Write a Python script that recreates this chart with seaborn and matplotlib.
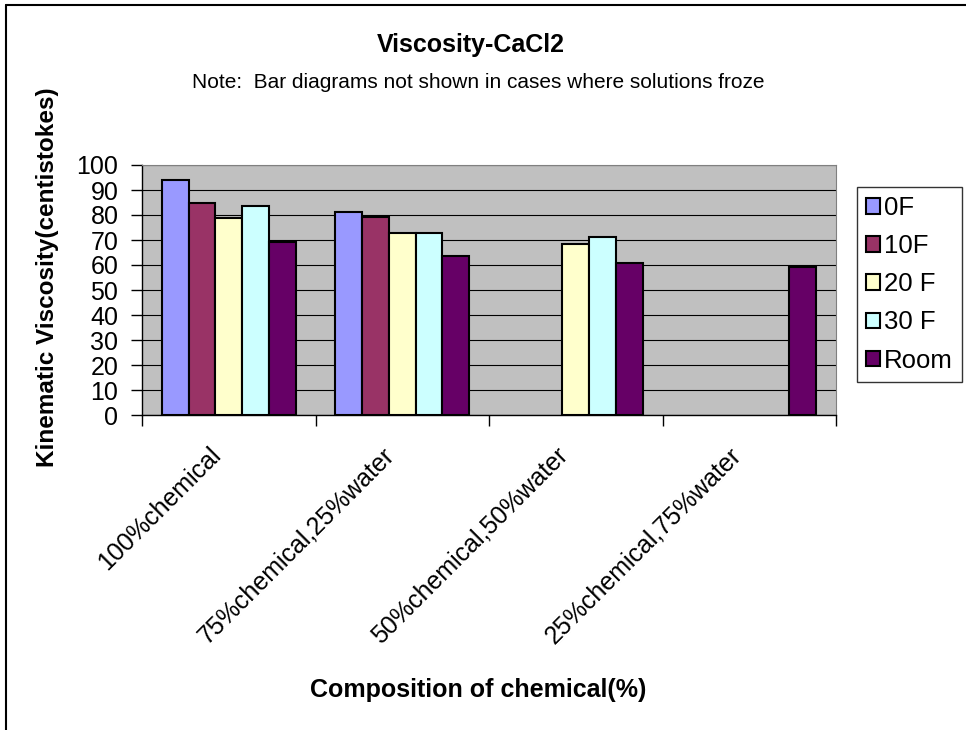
import pandas as pd
import numpy as np
import seaborn as sns
import matplotlib.pyplot as plt
from matplotlib.lines import Line2D
from matplotlib.transforms import ScaledTranslation

categories = ['100%chemical', '75%chemical,25%water', '50%chemical,50%water', '25%chemical,75%water']
series = ['0F', '10F', '20 F', '30 F', 'Room']
vals_0f = [94.0, 81.2, np.nan, np.nan]
vals_10f = [85.0, 79.3, np.nan, np.nan]
vals_20f = [79.0, 72.7, 68.4, np.nan]
vals_30f = [83.6, 72.7, 71.3, np.nan]
vals_room = [69.2, 63.6, 60.7, 59.3]
colors = ['#9999FF', '#993366', '#FFFFCC', '#CCFFFF', '#660066']

df = pd.DataFrame({
    'Composition': categories * 5,
    'Series': [s for s in series for _ in categories],
    'Viscosity': vals_0f + vals_10f + vals_20f + vals_30f + vals_room,
})

sns.set_style('white')
plt.rcParams['font.family'] = ['Liberation Sans', 'DejaVu Sans']
plt.rcParams['text.color'] = 'black'
plt.rcParams['xtick.color'] = 'black'
plt.rcParams['ytick.color'] = 'black'

fig = plt.figure(figsize=(9.66, 7.30), dpi=100)
ax = fig.add_axes([142 / 966, 1 - 415 / 730, 694 / 966, 250 / 730])
ax.set_facecolor('#C0C0C0')

sns.barplot(
    data=df, x='Composition', y='Viscosity', hue='Series',
    order=categories, hue_order=series, palette=colors,
    width=0.77, gap=0, edgecolor='black', linewidth=1.5,
    saturation=1, ax=ax, legend=True, zorder=3
)

ax.set_ylim(0, 100)
ax.set_xlim(-0.5, 3.5)
ax.set_yticks(range(0, 101, 10))
ax.yaxis.grid(True, color='black', linewidth=0.8)
ax.set_axisbelow(True)
ax.tick_params(axis='y', direction='out', length=8, width=1, color='black',
               labelsize=18, pad=9, left=True)
ax.set_xticks(range(4))
ax.set_xticklabels(categories, rotation=45, ha='right', rotation_mode='anchor', fontsize=18)
ax.tick_params(axis='x', length=0, pad=14)
shift = ScaledTranslation(-20 / 100, -8 / 100, fig.dpi_scale_trans)
for lbl in ax.get_xticklabels():
    lbl.set_transform(lbl.get_transform() + shift)
ax.set_xticks(np.arange(-0.5, 4, 1), minor=True)
ax.tick_params(axis='x', which='minor', direction='out', length=8, width=1, color='black', bottom=True)

for s in ['top', 'right']:
    ax.spines[s].set_color('#808080')
for s in ['left', 'bottom']:
    ax.spines[s].set_color('black')
    ax.spines[s].set_linewidth(1)

ax.set_xlabel('')
ax.set_ylabel('')
fig.text(478 / 966, 1 - 690 / 730, 'Composition of chemical(%)', fontsize=18, fontweight='bold',
         ha='center', va='center')
fig.text(48 / 966, 1 - 277 / 730, 'Kinematic Viscosity(centistokes)', fontsize=17.5, fontweight='bold',
         ha='center', va='center', rotation=90)
fig.text(471 / 966, 1 - 45 / 730, 'Viscosity-CaCl2', fontsize=18, fontweight='bold',
         ha='center', va='center')
fig.text(478 / 966, 1 - 82 / 730, 'Note:  Bar diagrams not shown in cases where solutions froze',
         fontsize=15, ha='center', va='center')

handles, labels = ax.get_legend_handles_labels()
ax.legend(handles, labels, loc='upper left', bbox_to_anchor=(857 / 966, 1 - 187 / 730),
          bbox_transform=fig.transFigure, frameon=True, fancybox=False, edgecolor='black',
          fontsize=18.5, handlelength=0.55, handleheight=0.55, handletextpad=0.15,
          labelspacing=0.55, borderpad=0.35, borderaxespad=0)
ax.get_legend().get_frame().set_linewidth(1)

fig.add_artist(Line2D([6 / 966, 6 / 966], [0, 1 - 5 / 730], color='black', linewidth=1.5))
fig.add_artist(Line2D([6 / 966, 1], [1 - 5 / 730, 1 - 5 / 730], color='black', linewidth=1.5))

fig.savefig('out.png', dpi=100)
